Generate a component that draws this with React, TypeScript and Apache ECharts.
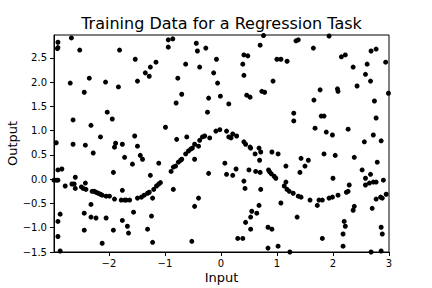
import React, { useEffect, useRef } from "react";
import * as echarts from "echarts";

// Points, grouped by region of the plot: [input, output]
const upperLeftPoints: [number, number][] = [
  [-2.91, 2.82], [-2.92, 2.69], [-2.91, 2.71], [-2.67, 2.91], [-2.52, 2.66], [-1.81, 2.66],
  [-0.94, 2.87], [-0.86, 2.89], [-0.94, 2.72], [-0.44, 2.8], [-0.42, 2.64], [-0.27, 2.7],
  [-1.53, 2.47], [-1.16, 2.41], [-1.26, 2.31], [-1.35, 2.19], [-1.28, 2.12], [-1.49, 2.02],
  [-0.63, 2.37], [-0.38, 2.31], [-0.08, 2.47], [-0.13, 2.19], [-0.06, 1.98], [-0.01, 1.71],
  [-2.69, 1.98], [-2.35, 2.08], [-2.06, 2.0], [-2.44, 1.79], [-1.83, 1.9], [-0.77, 2.08],
  [-0.7, 1.75], [-0.8, 1.57], [-0.22, 1.67], [-2.03, 1.38], [-1.94, 1.24], [-2.64, 1.22],
  [-2.32, 1.11], [-0.24, 1.38], [-0.99, 1.07], [-0.09, 0.99], [-0.02, 1.02], [-2.15, 0.87],
  [-1.54, 0.89], [-0.79, 0.82], [-0.61, 0.87], [-0.38, 0.8], [-0.33, 0.87], [-0.29, 0.89],
  [-0.2, 0.85], [-2.94, 0.75], [-1.88, 0.74],
];

const upperRightPoints: [number, number][] = [
  [0.76, 2.96], [1.93, 2.95], [1.34, 2.85], [1.38, 2.87], [0.7, 2.76], [1.65, 2.7],
  [2.77, 2.68], [2.68, 2.64], [0.41, 2.56], [0.48, 2.54], [1.0, 2.47], [1.07, 2.47],
  [1.18, 2.43], [2.15, 2.52], [2.22, 2.56], [0.39, 2.37], [2.94, 2.41], [2.36, 2.31],
  [2.61, 2.37], [0.41, 2.14], [2.58, 2.16], [2.67, 2.02], [0.93, 2.02], [2.43, 1.92],
  [2.08, 1.86], [2.09, 1.81], [1.77, 1.84], [0.73, 1.81], [0.78, 1.79], [0.46, 1.73],
  [0.52, 1.69], [1.66, 1.63], [2.74, 1.61], [2.99, 1.77], [0.14, 1.55], [1.3, 1.36],
  [1.3, 1.2], [1.79, 1.3], [1.84, 1.3], [2.77, 1.26], [1.68, 1.05], [2.27, 1.03],
  [1.88, 0.97], [1.99, 0.91], [2.72, 0.91], [2.86, 0.79], [2.56, 0.77], [0.1, 0.99],
  [0.14, 0.87], [0.18, 0.85], [0.21, 0.93], [0.28, 0.89], [0.41, 0.77],
];

const lowerLeftPoints: [number, number][] = [
  [-2.64, 0.72], [-2.42, 0.7], [-1.9, 0.66], [-1.76, 0.72], [-1.49, 0.68], [-2.28, 0.54],
  [-1.72, 0.45], [-1.44, 0.49], [-1.4, 0.41], [-1.58, 0.31], [-1.11, 0.33], [-2.91, 0.19],
  [-2.84, 0.21], [-1.92, 0.14], [-1.26, 0.08], [-0.89, 0.16], [-0.85, 0.25], [-0.81, 0.27],
  [-0.76, 0.35], [-0.72, 0.39], [-0.7, 0.41], [-0.63, 0.52], [-0.58, 0.58], [-0.54, 0.62],
  [-0.51, 0.64], [-0.47, 0.72], [-0.4, 0.68], [-0.47, 0.41], [-0.22, 0.12], [-2.98, -0.02],
  [-2.94, -0.02], [-2.91, -0.02], [-2.99, -0.33], [-2.78, -0.14], [-2.6, 0.04], [-2.66, -0.1],
  [-2.62, -0.1], [-2.6, -0.19], [-2.49, -0.16], [-2.46, -0.19], [-2.41, -0.21], [-2.42, -0.08],
  [-2.3, -0.25], [-2.26, -0.25], [-2.23, -0.27], [-2.19, -0.29], [-2.15, -0.31], [-2.12, -0.33],
  [-2.05, -0.35], [-1.99, -0.35], [-1.9, -0.41], [-1.78, -0.43], [-1.72, -0.43], [-1.69, -0.43],
  [-1.63, -0.43], [-1.76, -0.23], [-1.49, -0.39], [-1.42, -0.37], [-1.37, -0.33], [-1.31, -0.29],
  [-1.28, -0.27], [-1.2, -0.21], [-1.15, -0.14], [-1.11, -0.1], [-1.08, -0.07], [-1.22, -0.39],
  [-0.85, -0.21], [-2.32, -0.52], [-1.56, -0.68], [-2.44, -0.7], [-2.32, -0.78], [-2.23, -0.8],
  [-2.05, -0.8], [-1.76, -0.85], [-1.24, -0.76], [-0.4, -0.39], [-0.47, -0.56], [-2.87, -0.72],
  [-2.91, -0.87], [-1.67, -0.97], [-1.65, -1.11], [-1.92, -1.05], [-2.44, -1.05], [-1.31, -1.03],
  [-2.91, -1.18], [-2.12, -1.32], [-1.22, -1.3], [-0.52, -1.28], [-2.87, -1.48],
];

const lowerRightPoints: [number, number][] = [
  [0.44, 0.72], [0.52, 0.66], [0.53, 0.64], [0.68, 0.64], [0.71, 0.56], [0.61, 0.52],
  [0.69, 0.39], [0.91, 0.56], [1.02, 0.52], [0.07, 0.33], [0.1, 0.1], [0.21, 0.08],
  [0.27, 0.21], [0.5, 0.19], [0.62, 0.16], [0.7, 0.14], [0.41, -0.04], [0.43, -0.19],
  [0.71, -0.21], [0.85, 0.19], [0.87, 0.15], [0.9, 0.11], [0.95, 0.06], [0.98, 0.02],
  [1.16, 0.27], [1.43, 0.43], [1.56, 0.39], [1.5, 0.27], [1.41, 0.14], [1.16, -0.06],
  [1.13, -0.14], [1.18, -0.21], [1.22, -0.25], [1.29, -0.29], [1.38, -0.35], [1.43, -0.37],
  [1.59, -0.43], [1.72, -0.54], [1.75, -0.43], [1.81, -0.43], [1.93, -0.39], [1.99, -0.37],
  [2.09, -0.33], [2.24, -0.27], [2.27, -0.25], [2.29, -0.12], [2.0, 0.02], [1.84, 0.52],
  [2.04, 0.49], [2.38, 0.45], [2.52, 0.19], [2.67, 0.1], [2.58, 0.02], [2.58, -0.12],
  [2.65, -0.08], [2.72, -0.06], [2.77, -0.06], [2.79, 0.35], [2.9, -0.02], [2.95, -0.31],
  [2.77, -0.41], [2.85, -0.37], [2.88, -0.39], [2.7, -0.6], [1.07, -0.49], [0.68, -0.54],
  [0.64, -0.7], [0.55, -0.66], [0.53, -0.78], [0.44, -0.89], [0.53, -1.03], [1.36, -0.78],
  [0.84, -0.99], [0.91, -1.03], [0.3, -1.22], [0.39, -1.22], [0.84, -1.42], [1.02, -1.38],
  [1.23, -1.5], [1.81, -1.22], [2.2, -0.87], [2.22, -0.97], [2.18, -1.13], [2.18, -1.38],
  [2.38, -0.56], [2.36, -0.64], [2.86, -0.99], [2.88, -1.13], [2.68, -1.5], [2.86, -1.48],
];

const xTickValues = [-2, -1, 0, 1, 2, 3];
const yTickValues = [-1.5, -1, -0.5, 0, 0.5, 1, 1.5, 2, 2.5];

const titleText = "Training Data for a Regression Task";
const xLabelText = "Input";
const yLabelText = "Output";

const FONT = '"DejaVu Sans", "Liberation Sans", sans-serif';

export default function App() {
  const ref = useRef<HTMLDivElement>(null);

  useEffect(() => {
    if (!ref.current) return;
    const chart = echarts.init(ref.current, undefined, { renderer: "svg" });
    const data = [
      ...upperLeftPoints,
      ...upperRightPoints,
      ...lowerLeftPoints,
      ...lowerRightPoints,
    ];
    const axisCommon = {
      type: "value" as const,
      splitLine: { show: false },
      axisLine: { show: true, onZero: false, lineStyle: { color: "#000", width: 1 } },
    };
    chart.setOption({
      animation: false,
      backgroundColor: "#fff",
      grid: {
        left: 54,
        right: 43,
        top: 35,
        bottom: 36,
        show: true,
        borderColor: "#000",
        borderWidth: 1,
        backgroundColor: "transparent",
      },
      xAxis: {
        ...axisCommon,
        min: -2.98,
        max: 3,
        axisTick: {
          show: true,
          length: 4,
          lineStyle: { color: "#000" },
          customValues: xTickValues,
        },
        axisLabel: {
          customValues: xTickValues,
          color: "#000",
          fontSize: 10,
          fontFamily: FONT,
          margin: 6,
          formatter: (v: number) => String(v).replace("-", "\u2212"),
        },
      },
      yAxis: {
        ...axisCommon,
        min: -1.5,
        max: 2.97,
        axisTick: {
          show: true,
          length: 4,
          lineStyle: { color: "#000" },
          customValues: yTickValues,
        },
        axisLabel: {
          customValues: yTickValues,
          color: "#000",
          fontSize: 10,
          fontFamily: FONT,
          margin: 7,
          formatter: (v: number) => v.toFixed(1).replace("-", "\u2212"),
        },
      },
      series: [
        {
          type: "scatter",
          data,
          symbol: "circle",
          symbolSize: 5,
          itemStyle: { color: "#000", opacity: 1 },
          clip: true,
        },
      ],
      graphic: [
        {
          type: "text",
          x: 221.5,
          y: 23,
          style: {
            text: titleText,
            fontSize: 16,
            fontFamily: FONT,
            fill: "#000",
            align: "center",
            verticalAlign: "middle",
          },
        },
        {
          type: "text",
          x: 221.5,
          y: 277,
          style: {
            text: xLabelText,
            fontSize: 13,
            fontFamily: FONT,
            fill: "#000",
            align: "center",
            verticalAlign: "middle",
          },
        },
        {
          type: "text",
          x: 12,
          y: 143.5,
          rotation: Math.PI / 2,
          style: {
            text: yLabelText,
            fontSize: 13,
            fontFamily: FONT,
            fill: "#000",
            align: "center",
            verticalAlign: "middle",
          },
        },
      ],
    });
    return () => chart.dispose();
  }, []);

  return (
    <div
      ref={ref}
      style={{ position: "absolute", left: 0, top: 0, width: 432, height: 288 }}
    />
  );
}
